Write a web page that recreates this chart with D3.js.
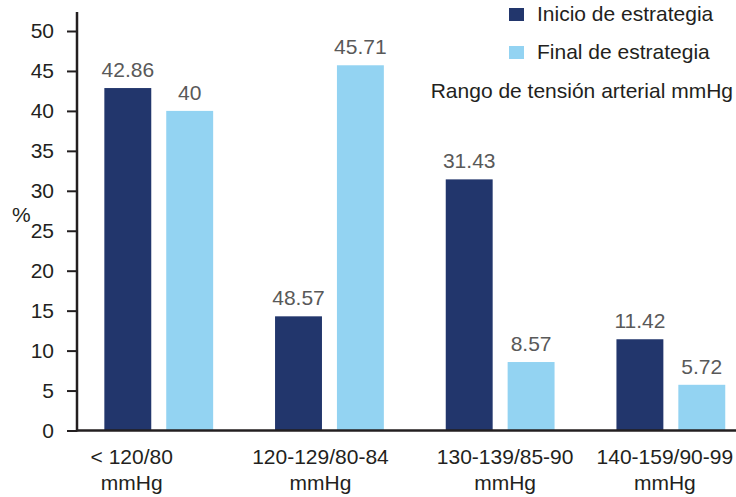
<!DOCTYPE html>
<html lang="es">
<meta charset="UTF-8">
<title>Rango de tensión arterial</title>
<style>
html, body { margin: 0; padding: 0; background: #fff; }
svg { display: block; font-family: "Liberation Sans", Arial, Helvetica, sans-serif; }
.tick text { font-size: 21px; fill: #231f20; }
.tick line { stroke: #231f20; stroke-width: 2; }
.value { font-size: 21px; fill: #595959; text-anchor: middle; }
.cat { font-size: 21px; fill: #231f20; text-anchor: middle; }
.legend { font-size: 21px; fill: #231f20; }
</style>
<body>
<script src="https://cdn.jsdelivr.net/npm/d3@7"></script>
<script>
// data
var categories = ["< 120/80|mmHg", "120-129/80-84|mmHg", "130-139/85-90|mmHg", "140-159/90-99|mmHg"]
var series = ["Inicio de estrategia", "Final de estrategia"]
var inicio = [42.86, 14.29, 31.43, 11.42]
var final = [40, 45.71, 8.57, 5.72]
var inicioLabels = ["42.86", "48.57", "31.43", "11.42"]
var finalLabels = ["40", "45.71", "8.57", "5.72"]
var yTicks = [0, 5, 10, 15, 20, 25, 30, 35, 40, 45, 50]

var colors = ["#22366c", "#93d3f2"]
var labelShift = [-27, -9, 5, -6] // category labels are not quite centred in the original

var W = 736, H = 497

var svg = d3.select("body").append("svg")
  .attr("width", W)
  .attr("height", H)

var y = d3.scaleLinear()
  .domain([0, 50])
  .range([430.5, 31])

var x0 = d3.scaleBand()
  .domain(categories)
  .range([73.4, 756.2])
  .paddingInner(62 / 171)
  .paddingOuter(31 / 171)

var x1 = d3.scaleBand()
  .domain(series)
  .range([0, x0.bandwidth()])
  .paddingInner(15 / 62)

var rows = categories.map(function(c, i) {
  return [
    { cat: c, s: series[0], v: inicio[i], label: inicioLabels[i], i: 0 },
    { cat: c, s: series[1], v: final[i], label: finalLabels[i], i: 1 }
  ]
})

// y axis
var yAxis = d3.axisLeft(y)
  .tickValues(yTicks)
  .tickSize(10)
  .tickPadding(13)

var gy = svg.append("g")
  .attr("transform", "translate(77,0)")
  .call(yAxis)
gy.select(".domain").remove()

svg.append("line")
  .attr("x1", 77).attr("x2", 77)
  .attr("y1", 12).attr("y2", y(0) + 1)
  .attr("stroke", "#231f20")
  .attr("stroke-width", 2.5)

svg.append("text")
  .attr("class", "legend")
  .attr("x", 12)
  .attr("y", 222)
  .text("%")

// bars
var groups = svg.append("g")
  .selectAll("g")
  .data(rows)
  .enter()
  .append("g")
  .attr("transform", function(d) { return "translate(" + x0(d[0].cat) + ",0)" })

groups.selectAll("rect")
  .data(function(d) { return d })
  .enter()
  .append("rect")
  .attr("x", function(d) { return x1(d.s) })
  .attr("width", x1.bandwidth())
  .attr("y", function(d) { return y(d.v) })
  .attr("height", function(d) { return y(0) - y(d.v) })
  .attr("fill", function(d) { return colors[d.i] })

groups.selectAll("text")
  .data(function(d) { return d })
  .enter()
  .append("text")
  .attr("class", "value")
  .attr("x", function(d) { return x1(d.s) + x1.bandwidth() / 2 })
  .attr("y", function(d) { return y(d.v) - 11 })
  .text(function(d) { return d.label })

// x axis line
svg.append("line")
  .attr("x1", 76).attr("x2", W)
  .attr("y1", y(0)).attr("y2", y(0))
  .attr("stroke", "#231f20")
  .attr("stroke-width", 2.5)

// category labels
categories.forEach(function(c, i) {
  var parts = c.split("|")
  var t = svg.append("text")
    .attr("class", "cat")
    .attr("x", x0(c) + x0.bandwidth() / 2 + labelShift[i])
    .attr("y", 464)
  t.append("tspan").text(parts[0])
  t.append("tspan")
    .attr("x", x0(c) + x0.bandwidth() / 2 + labelShift[i])
    .attr("dy", 26)
    .text(parts[1])
})

// legend
var legend = svg.append("g")
series.forEach(function(s, i) {
  legend.append("rect")
    .attr("x", 509)
    .attr("y", 8 + i * 38)
    .attr("width", 15)
    .attr("height", 13)
    .attr("fill", colors[i])
  legend.append("text")
    .attr("class", "legend")
    .attr("x", 537)
    .attr("y", 21 + i * 38)
    .text(s)
})

legend.append("text")
  .attr("class", "legend")
  .attr("x", 733)
  .attr("y", 98)
  .attr("text-anchor", "end")
  .text("Rango de tensión arterial mmHg")
</script>
</body>
</html>
